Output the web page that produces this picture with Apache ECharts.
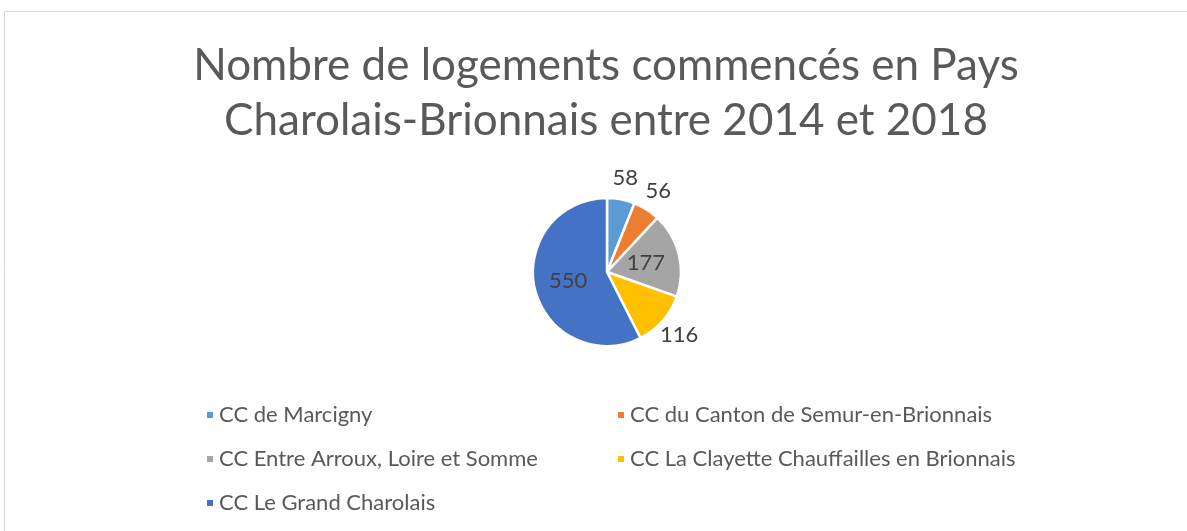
<!DOCTYPE html>
<html>
<head>
<meta charset="utf-8">
<script src="https://cdn.jsdelivr.net/npm/echarts@6/dist/echarts.min.js"></script>
<style>
  html, body { margin: 0; padding: 0; background: #fff; }
  #eCharts { width: 1187px; height: 531px; }
</style>
</head>
<body>
<div id="eCharts"></div>
<script>
// données
var titre = 'Nombre de logements commencés en Pays\nCharolais-Brionnais entre 2014 et 2018';
var communautes = ['CC de Marcigny', 'CC du Canton de Semur-en-Brionnais', 'CC Entre Arroux, Loire et Somme',
    'CC La Clayette Chauffailles en Brionnais', 'CC Le Grand Charolais'];
var logements = [58, 56, 177, 116, 550];
var couleurs = ['#5B9BD5', '#ED7D31', '#A5A5A5', '#FFC000', '#4472C4'];
var etiquettesDedans = [false, false, true, false, true];

var police = 'Lato';
var myChart = echarts.init(document.getElementById('eCharts'));

var pieData = [];
for (var i = 0; i < communautes.length; i++) {
    pieData.push({
        name: communautes[i],
        value: logements[i],
        itemStyle: {color: couleurs[i]},
        label: {position: etiquettesDedans[i] ? 'inside' : 'outside'}
    });
}

var legendStyle = {
    orient: 'vertical',
    icon: 'rect',
    itemWidth: 8,
    itemHeight: 8,
    itemGap: 22,
    textStyle: {fontFamily: police, fontSize: 22, color: '#595959', padding: [0, 0, 0, 0]}
};

option = {
    backgroundColor: '#fff',
    title: {
        text: titre,
        left: 601,
        top: 33,
        textAlign: 'center',
        textStyle: {fontFamily: police, fontSize: 44, fontWeight: 'normal', color: '#595959', lineHeight: 55}
    },
    graphic: [{
        type: 'rect',
        shape: {x: 4.5, y: 11.5, width: 1200, height: 560},
        style: {fill: 'none', stroke: '#d9d9d9', lineWidth: 1}
    }],
    legend: [
        echarts.util.merge({left: 200, top: 399, data: [communautes[0], communautes[2], communautes[4]]}, legendStyle, true),
        echarts.util.merge({left: 611, top: 399, data: [communautes[1], communautes[3]]}, legendStyle, true)
    ],
    series: [{
        type: 'pie',
        center: [607, 272],
        radius: 74,
        startAngle: 90,
        clockwise: true,
        avoidLabelOverlap: false,
        itemStyle: {borderColor: '#fff', borderWidth: 2.5},
        label: {
            show: true,
            formatter: '{c}',
            fontFamily: police,
            fontSize: 22,
            color: '#404040',
            distanceToLabelLine: 0
        },
        labelLine: {show: false, length: 22, length2: 0},
        // étiquettes extérieures centrées sur le bout du trait (comme Excel)
        labelLayout: function (params) {
            if (!etiquettesDedans[params.dataIndex]) {
                return {align: 'center', verticalAlign: 'middle'};
            }
            return {};
        },
        emphasis: {scale: false},
        data: pieData
    }]
};
myChart.setOption(option);
</script>
</body>
</html>
